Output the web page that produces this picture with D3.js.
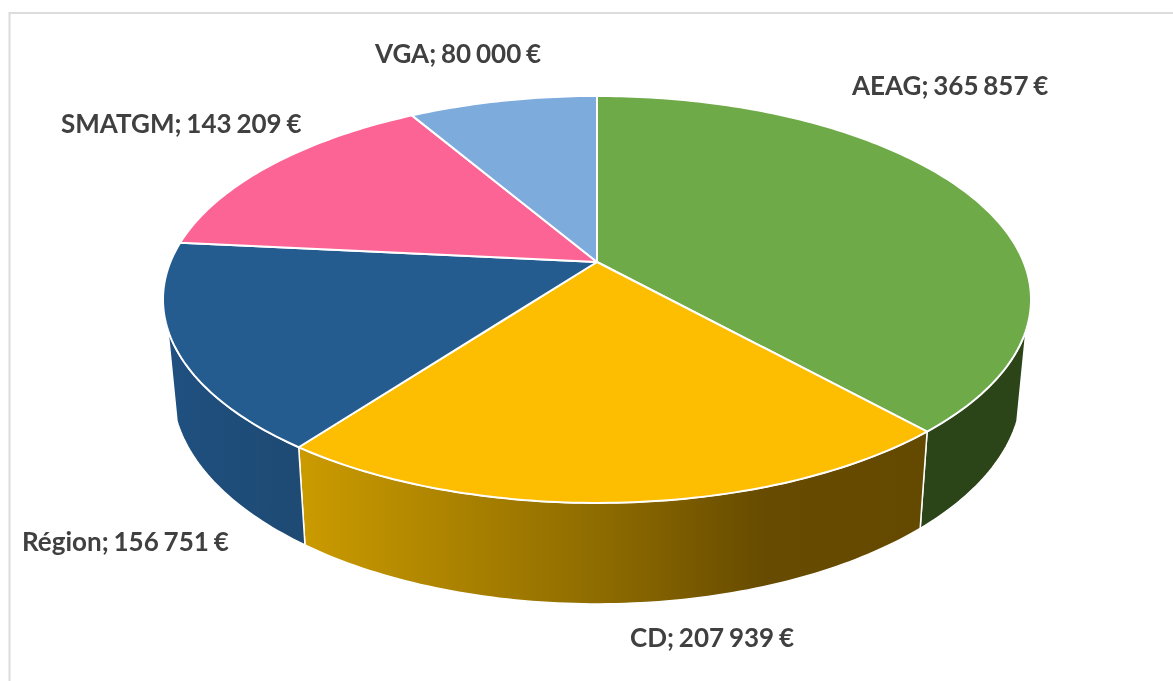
<!DOCTYPE html>
<html>
<head>
<meta charset="utf-8">
<script src="https://cdn.jsdelivr.net/npm/d3@7"></script>
<style>
  html, body { margin: 0; padding: 0; background: #fff; }
  svg { display: block; filter: blur(0.5px); }
  .label { font-family: Lato, "Open Sans", sans-serif; font-weight: 700; font-size: 26px; word-spacing: -1.5px; fill: #404040; }
</style>
</head>
<body>
<div id="chart"></div>
<script>
const names = ["AEAG", "CD", "Région", "SMATGM", "VGA"];
const amounts = [365857, 207939, 156751, 143209, 80000];
const topColors = ["#6eaa48", "#fdbd00", "#255c8f", "#fd6496", "#7cabdc"];
const wallColors = ["#2b4519", "url(#wallCD)", "url(#wallRegion)", "none", "none"];
const labelX = [852, 630, 22, 61, 375];
const labelY = [95, 647, 551, 133, 63];

const width = 1173, height = 681;
const perspective = 0.184;   // raccourci de l'ellipse vers le haut
const wallFrom = 109 * Math.PI / 180, wallTo = 251 * Math.PI / 180;

const svg = d3.select("#chart").append("svg")
  .attr("width", width)
  .attr("height", height);

// Cadre : seuls les bords haut et gauche sont visibles
svg.append("path")
  .attr("d", "M9.5," + height + "V13H" + width)
  .attr("fill", "none")
  .attr("stroke", "#dcdcdc")
  .attr("stroke-width", 2);

const defs = svg.append("defs");
function addGradient(id, x1, x2, stops){
  const g = defs.append("linearGradient")
    .attr("id", id)
    .attr("gradientUnits", "userSpaceOnUse")
    .attr("x1", x1).attr("x2", x2).attr("y1", 0).attr("y2", 0);
  stops.forEach(s => g.append("stop").attr("offset", s[0]).attr("stop-color", s[1]));
}
addGradient("wallCD", 300, 920, [[0, "#cb9b00"], [0.5, "#8c6a00"], [0.75, "#674b00"], [1, "#644900"]]);
addGradient("wallRegion", 165, 305, [[0, "#1f5080"], [1, "#1e4a73"]]);

// Échelles du disque : coordonnées du cercle unité vers l'écran
const xTop = d3.scaleLinear().domain([-1, 1]).range([170.4, 1023.6]);
const yTop = d3.scaleLinear().domain([-1, 1]).range([65.4, 458.6]);
const xBottom = d3.scaleLinear().domain([-1, 1]).range([179.4, 1014.6]);
const yBottom = d3.scaleLinear().domain([-1, 1]).range([141, 557]);

function project(angle, r, xs, ys){
  const X = r * Math.sin(angle), Y = -r * Math.cos(angle);
  const w = 1 - perspective * Y;
  return [xs(X / w), ys(Y / w)];
}

const line = d3.line();
const arcPoints = (a0, a1, xs, ys) => {
  const n = Math.max(2, Math.ceil((a1 - a0) * 60));
  return d3.range(n + 1).map(i => project(a0 + (a1 - a0) * i / n, 1, xs, ys));
};

const pie = d3.pie().sort(null).value(d => d);
const slices = pie(amounts);

// Flancs visibles
svg.append("g")
  .selectAll("path")
  .data(slices.filter(d => d.endAngle > wallFrom && d.startAngle < wallTo))
  .enter()
  .append("path")
  .attr("d", d => {
    const a0 = Math.max(d.startAngle, wallFrom), a1 = Math.min(d.endAngle, wallTo);
    const upper = arcPoints(a0, a1, xTop, yTop);
    const lower = arcPoints(a0, a1, xBottom, yBottom).reverse();
    return line(upper.concat(lower)) + "Z";
  })
  .attr("fill", d => wallColors[d.index])
  .attr("stroke", "#fff")
  .attr("stroke-width", 1.5)
  .attr("stroke-linejoin", "round");

// Dessus du camembert
svg.append("g")
  .selectAll("path")
  .data(slices)
  .enter()
  .append("path")
  .attr("d", d => {
    const apex = project(0, 0, xTop, yTop);
    return line([apex].concat(arcPoints(d.startAngle, d.endAngle, xTop, yTop))) + "Z";
  })
  .attr("fill", d => topColors[d.index])
  .attr("stroke", "#fff")
  .attr("stroke-width", 2)
  .attr("stroke-linejoin", "round");

// Étiquettes
const fr = d3.formatLocale({decimal: ",", thousands: " ", grouping: [3], currency: ["", " €"]});
const money = fr.format("$,");
svg.append("g")
  .selectAll("text")
  .data(slices)
  .enter()
  .append("text")
  .classed("label", true)
  .attr("x", d => labelX[d.index])
  .attr("y", d => labelY[d.index])
  .text(d => names[d.index] + "; " + money(d.value));
</script>
</body>
</html>
